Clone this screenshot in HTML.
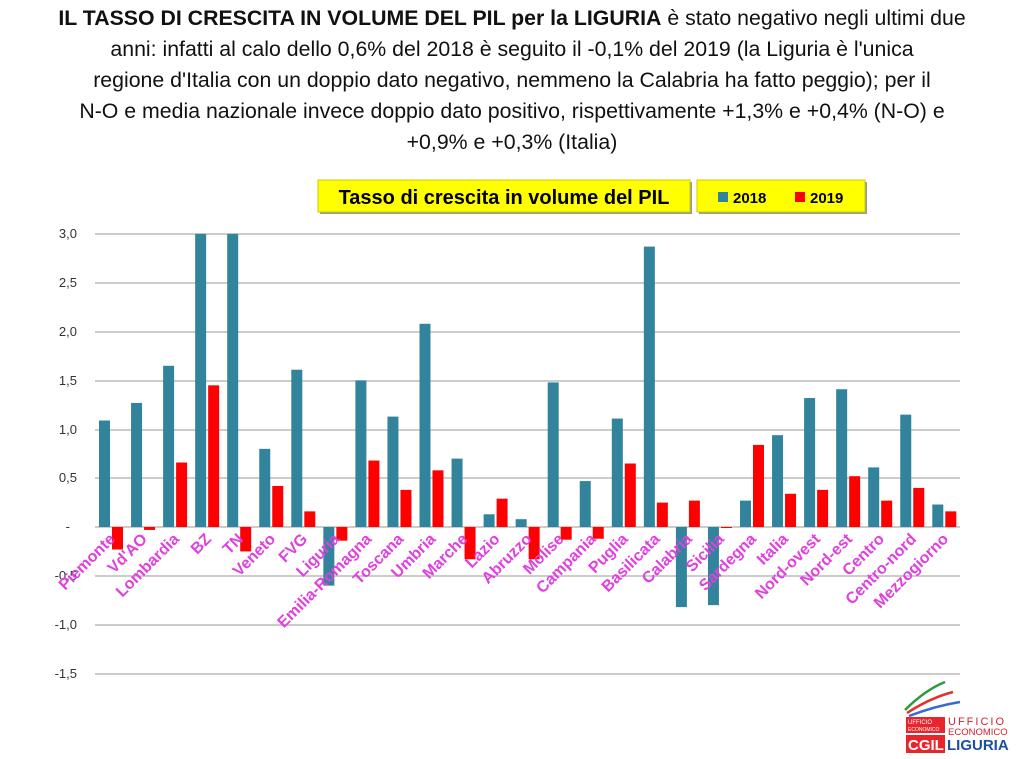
<!DOCTYPE html><html><head><meta charset="utf-8"><style>
body{margin:0;width:1024px;height:759px;background:#fff;overflow:hidden;font-family:"Liberation Sans",sans-serif}
.h{position:absolute;left:0;top:3px;width:1024px;text-align:center;font-size:21.3px;line-height:31px;color:#111}
</style></head><body>
<div class="h"><b>IL TASSO DI CRESCITA IN VOLUME DEL PIL per la LIGURIA</b> è stato negativo negli ultimi due<br>anni: infatti al calo dello 0,6% del 2018 è seguito il -0,1% del 2019 (la Liguria è l'unica<br>regione d'Italia con un doppio dato negativo, nemmeno la Calabria ha fatto peggio); per il<br>N-O e media nazionale invece doppio dato positivo, rispettivamente +1,3% e +0,4% (N-O) e<br>+0,9% e +0,3% (Italia)</div>
<svg width="1024" height="759" style="position:absolute;left:0;top:0" font-family="Liberation Sans, sans-serif">
<rect x="320" y="182" width="372" height="32" fill="#999"/><rect x="318" y="180" width="372" height="32" fill="#ffff00" stroke="#cccc00"/>
<text x="504" y="204" text-anchor="middle" font-size="20" font-weight="bold">Tasso di crescita in volume del PIL</text>
<rect x="699" y="182" width="168" height="32" fill="#999"/><rect x="697" y="180" width="168" height="32" fill="#ffff00" stroke="#cccc00"/>
<rect x="718" y="192" width="10" height="10" fill="#31849b"/><text x="733" y="203" font-size="15" font-weight="bold">2018</text>
<rect x="795" y="192" width="10" height="10" fill="#ff0000"/><text x="810" y="203" font-size="15" font-weight="bold">2019</text>
<g stroke="#bbb" stroke-width="1.5">
<line x1="95" x2="960" y1="234" y2="234"/><line x1="95" x2="960" y1="283" y2="283"/><line x1="95" x2="960" y1="332" y2="332"/><line x1="95" x2="960" y1="381" y2="381"/><line x1="95" x2="960" y1="430" y2="430"/><line x1="95" x2="960" y1="478" y2="478"/><line x1="95" x2="960" y1="527" y2="527"/><line x1="95" x2="960" y1="576" y2="576"/><line x1="95" x2="960" y1="625" y2="625"/><line x1="95" x2="960" y1="674" y2="674"/></g>
<g font-size="13" fill="#333" text-anchor="end">
<text x="77" y="238">3,0</text><text x="77" y="287">2,5</text><text x="77" y="336">2,0</text><text x="77" y="385">1,5</text><text x="77" y="434">1,0</text><text x="77" y="482">0,5</text><text x="70" y="531">-</text><text x="77" y="580">-0,5</text><text x="77" y="629">-1,0</text><text x="77" y="678">-1,5</text></g>
<g id="bars"></g><g id="labs" fill="#e040e0" font-size="16" font-weight="bold" text-anchor="end"></g>
<g transform="translate(905,680)">
<path d="M0 30 Q20 10 40 2" stroke="#2a9a3a" stroke-width="2.5" fill="none"/>
<path d="M2 33 Q25 18 48 12" stroke="#e03030" stroke-width="2.5" fill="none"/>
<path d="M4 36 Q30 26 55 22" stroke="#3a6ad0" stroke-width="2.5" fill="none"/>
<rect x="1" y="37" width="39" height="16" fill="#e8252d"/>
<text x="3" y="44" font-size="6" fill="#fff">UFFICIO</text><text x="3" y="51" font-size="5" fill="#fff">ECONOMICO</text>
<text x="43" y="45" font-size="11" fill="#d52030" letter-spacing="2">UFFICIO</text>
<text x="43" y="55" font-size="9.5" fill="#d52030">ECONOMICO</text>
<rect x="1" y="55" width="39" height="18" fill="#e8252d"/>
<text x="3" y="70" font-size="15" font-weight="bold" fill="#fff">CGIL</text>
<text x="42" y="70" font-size="15" font-weight="bold" fill="#1d4fa0">LIGURIA</text></g>
</svg>
<script>
var d=[["Piemonte",1.09,-0.23],["Vd'AO",1.27,-0.03],["Lombardia",1.65,0.66],["BZ",3.0,1.45],["TN",3.0,-0.25],["Veneto",0.80,0.42],["FVG",1.61,0.16],["Liguria",-0.6,-0.14],["Emilia-Romagna",1.50,0.68],["Toscana",1.13,0.38],["Umbria",2.08,0.58],["Marche",0.70,-0.33],["Lazio",0.13,0.29],["Abruzzo",0.08,-0.33],["Molise",1.48,-0.13],["Campania",0.47,-0.12],["Puglia",1.11,0.65],["Basilicata",2.87,0.25],["Calabria",-0.82,0.27],["Sicilia",-0.80,-0.01],["Sardegna",0.27,0.84],["Italia",0.94,0.34],["Nord-ovest",1.32,0.38],["Nord-est",1.41,0.52],["Centro",0.61,0.27],["Centro-nord",1.15,0.40],["Mezzogiorno",0.23,0.16]];
var ns="http://www.w3.org/2000/svg",b=document.getElementById("bars"),l=document.getElementById("labs");
function r(x,v,c){var e=document.createElementNS(ns,"rect");var y0=527,h=v*97.7;e.setAttribute("x",x);e.setAttribute("width",11);e.setAttribute("y",h>0?y0-h:y0);e.setAttribute("height",Math.max(Math.abs(h),1));e.setAttribute("fill",c);b.appendChild(e);}
d.forEach(function(a,i){var x=99+i*32.05;r(x,a[1],"#31849b");r(x+13,a[2],"#ff0000");
var t=document.createElementNS(ns,"text");var tx=x+17,ty=540;t.setAttribute("transform","translate("+tx+","+ty+") rotate(-45)");t.textContent=a[0];l.appendChild(t);});
</script>
</body></html>
